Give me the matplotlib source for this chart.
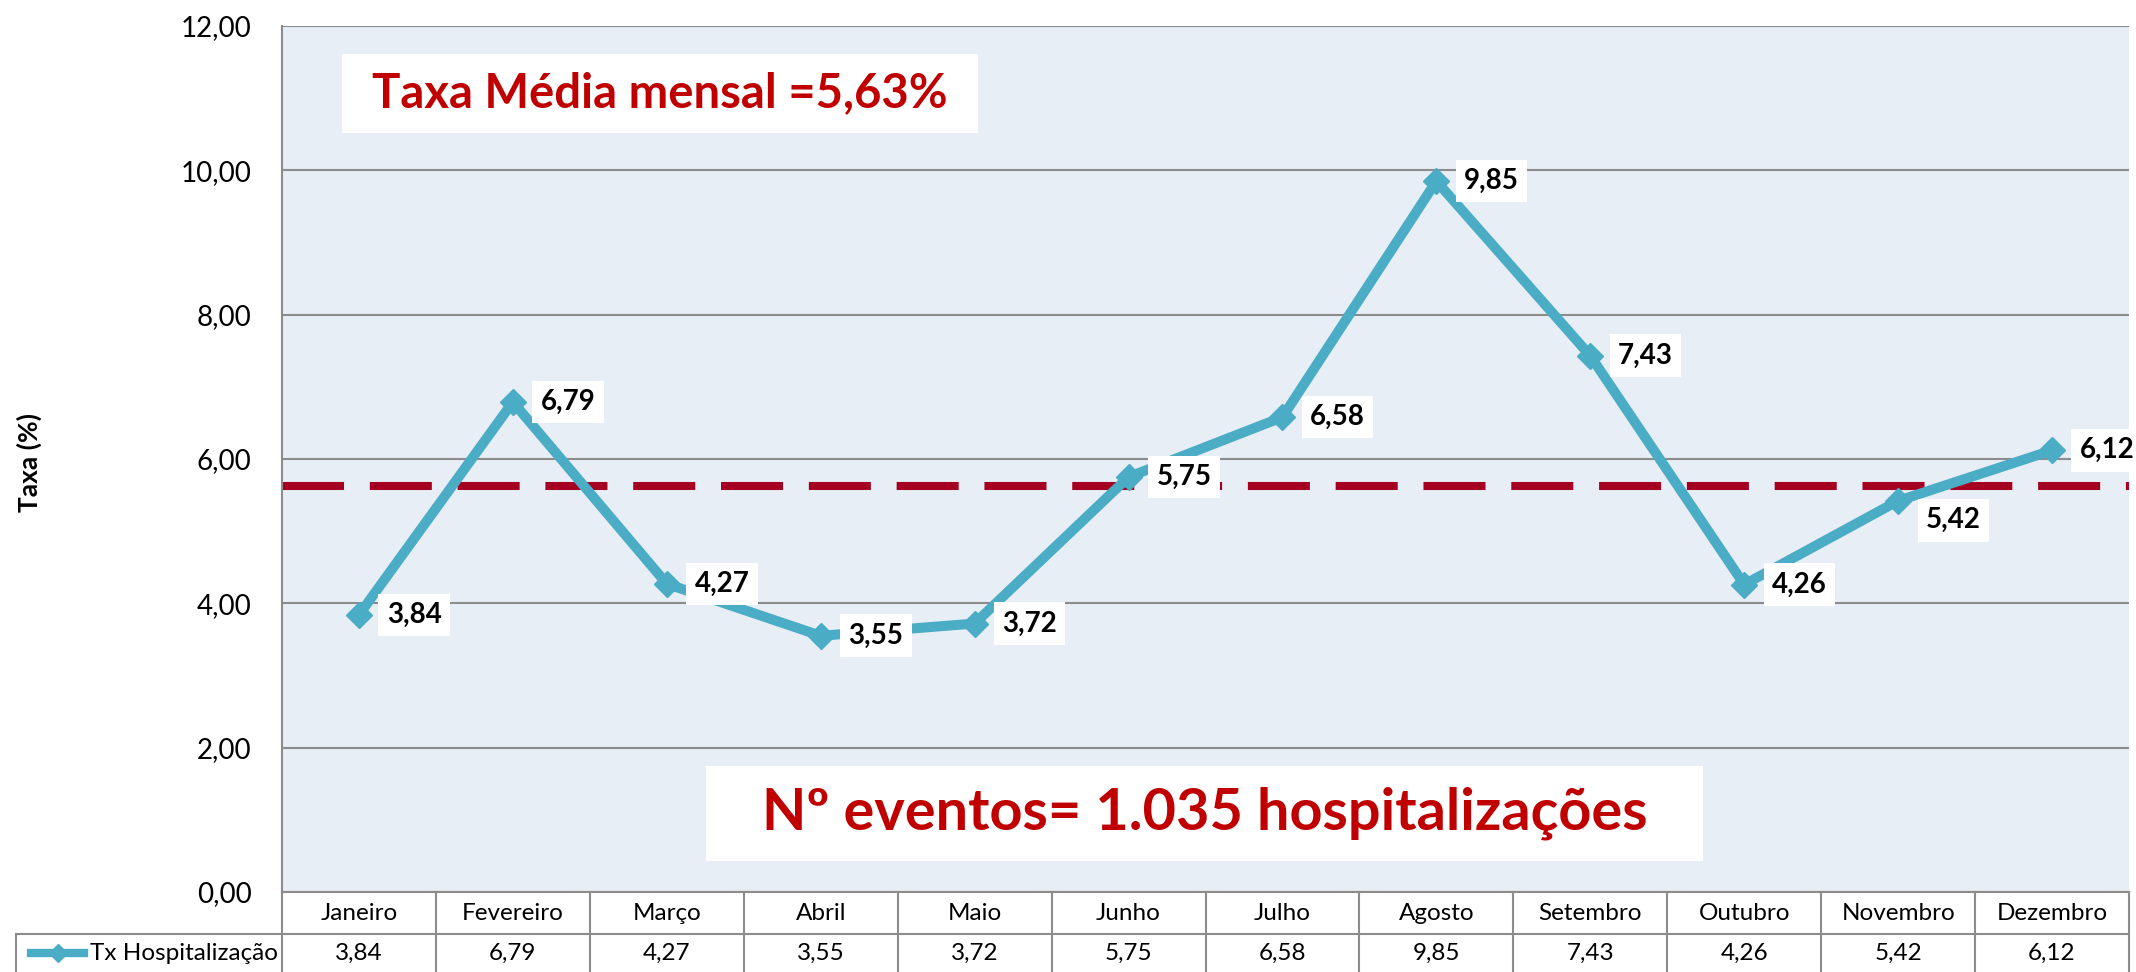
import matplotlib
matplotlib.use('Agg')
import matplotlib.pyplot as plt
import matplotlib.transforms as mtransforms
from matplotlib.lines import Line2D
from matplotlib.patches import Rectangle
from matplotlib.ticker import FuncFormatter, MultipleLocator
import numpy as np

plt.rcParams['font.family'] = ['Lato', 'DejaVu Sans']

# monthly hospitalisation rate (%)
months = ['Janeiro', 'Fevereiro', 'Março', 'Abril', 'Maio', 'Junho',
          'Julho', 'Agosto', 'Setembro', 'Outubro', 'Novembro', 'Dezembro']
tx_hosp = [3.84, 6.79, 4.27, 3.55, 3.72, 5.75, 6.58, 9.85, 7.43, 4.26, 5.42, 6.12]
taxa_media = 5.63
n_eventos = '1.035'
series_name = 'Tx Hospitalização'


def br(v):
    # decimal comma
    return f'{v:.2f}'.replace('.', ',')


LINE = '#4BACC6'
RED = '#C00000'
DASH = '#A50021'
GRID = '#8C8C8C'
BG = '#E7EEF5'
W, H = 2136, 972

fig = plt.figure(figsize=(W / 100, H / 100), dpi=100)
ax = fig.add_axes([282 / W, 80 / H, (2129 - 282) / W, (892 - 26) / H])
ax.set_facecolor(BG)

x = np.arange(len(months)) + 0.5
ax.set_xlim(0, len(months))
ax.set_ylim(0, 12)
ax.yaxis.set_major_locator(MultipleLocator(2))
ax.yaxis.set_major_formatter(FuncFormatter(lambda v, p: br(v)))
ax.grid(axis='y', color=GRID, lw=1.5)
ax.set_axisbelow(True)
ax.set_xticks([])
ax.tick_params(axis='y', length=0, pad=22, labelsize=20)
for s in ['top', 'right']:
    ax.spines[s].set_visible(False)
for s in ['left', 'bottom']:
    ax.spines[s].set_color(GRID)
    ax.spines[s].set_linewidth(1.5)

# average line
ax.axhline(taxa_media, color=DASH, lw=5.8, dashes=(7.7, 3.2), zorder=2)

ax.plot(x, tx_hosp, color=LINE, lw=7.2, marker='D', ms=13, zorder=3)

label_offsets = {10: (20, -14)}
for i, (xi, v) in enumerate(zip(x, tx_hosp)):
    ax.annotate(br(v), (xi, v), xytext=label_offsets.get(i, (20, 0)),
                textcoords='offset points', ha='left', va='center',
                fontsize=20, fontweight='bold',
                bbox=dict(boxstyle='square,pad=0.3', fc='white', ec='none'),
                zorder=5)

# text boxes
ax.add_patch(Rectangle((0.0325, 0.8764), 0.3443, 0.0912, transform=ax.transAxes,
                       fc='white', ec='none', zorder=4))
ax.text(0.2047, 0.922, f'Taxa Média mensal ={br(taxa_media)}%', transform=ax.transAxes,
        ha='center', va='center', color=RED, fontsize=34, fontweight='bold', zorder=5)

ax.add_patch(Rectangle((0.2296, 0.0358), 0.5398, 0.1097, transform=ax.transAxes,
                       fc='white', ec='none', zorder=4))
ax.text(0.4995, 0.0906, f'Nº eventos= {n_eventos} hospitalizações', transform=ax.transAxes,
        ha='center', va='center', color=RED, fontsize=41.5, fontweight='bold', zorder=5)

fig.text(29 / W, (H - 463) / H, 'Taxa (%)', rotation=90, ha='center', va='center',
         fontsize=19, fontweight='bold')

# data table under the axis
trans = mtransforms.blended_transform_factory(ax.transData, fig.transFigure)
y_top, y_mid, y_bot = 80 / H, 38 / H, 0.0
leg_left = (16 - 282) / 154
tab_kw = dict(color=GRID, lw=1.5, transform=trans, clip_on=False)
for k in range(len(months) + 1):
    fig.add_artist(Line2D([k, k], [y_bot, y_top], **tab_kw))
fig.add_artist(Line2D([leg_left, len(months)], [y_mid, y_mid], **tab_kw))
fig.add_artist(Line2D([leg_left, leg_left], [y_bot, y_mid], **tab_kw))

for xi, m, v in zip(x, months, tx_hosp):
    fig.text(xi, (H - 913) / H, m, transform=trans, ha='center', va='center', fontsize=17.5)
    fig.text(xi, (H - 953) / H, br(v), transform=trans, ha='center', va='center', fontsize=17.5)

ly = (H - 953) / H
fig.add_artist(Line2D([(31 - 282) / 154, (84 - 282) / 154], [ly, ly], color=LINE, lw=6,
                      transform=trans, clip_on=False))
fig.add_artist(Line2D([(57.5 - 282) / 154], [ly], color=LINE, marker='D', ms=9,
                      transform=trans, clip_on=False))
fig.text((90 - 282) / 154, ly, series_name, transform=trans, ha='left', va='center',
         fontsize=17.5)

fig.savefig('out.png', dpi=100)
